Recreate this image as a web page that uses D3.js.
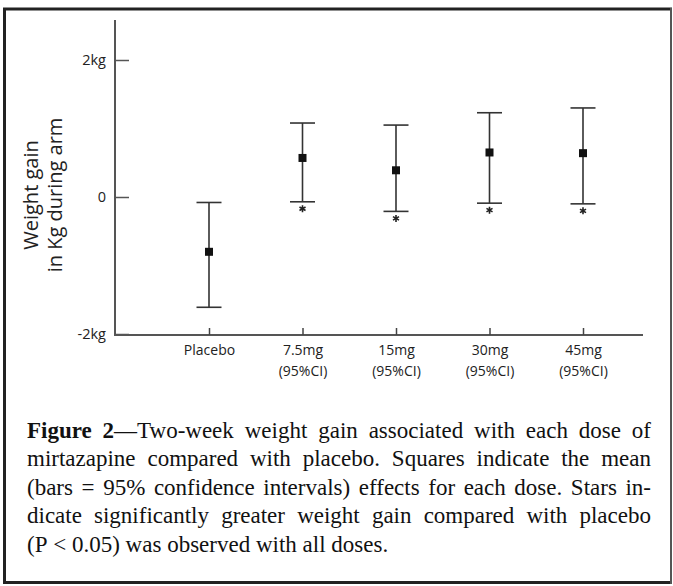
<!DOCTYPE html>
<html>
<head>
<meta charset="utf-8">
<script src="https://cdn.jsdelivr.net/npm/d3@7"></script>
<style>
body { margin: 0; background: #fff; }
</style>
</head>
<body>
<div id="chart"></div>
<script>
var doses = ["Placebo", "7.5mg", "15mg", "30mg", "45mg"];
var subLabels = ["", "(95%CI)", "(95%CI)", "(95%CI)", "(95%CI)"];
var means = [-0.80, 0.57, 0.39, 0.65, 0.64];
var ciLow = [-1.61, -0.07, -0.21, -0.09, -0.10];
var ciHigh = [-0.08, 1.08, 1.05, 1.23, 1.30];
var significant = [false, true, true, true, true];
var yTicks = [-2, 0, 2];
var yTickLabels = ["-2kg", "0", "2kg"];
var yLabel = ["Weight gain", "in Kg during arm"];
var captionBold = "Figure 2";
var caption = [
    "Figure 2\u2014Two-week weight gain associated with each dose of",
    "mirtazapine compared with placebo. Squares indicate the mean",
    "(bars = 95% confidence intervals) effects for each dose. Stars in-",
    "dicate significantly greater weight gain compared with placebo",
    "(P < 0.05) was observed with all doses."
];

var width = 673, height = 586;
var sans = "'Open Sans', 'DejaVu Sans', sans-serif";
var serif = "'Liberation Serif', 'Times New Roman', serif";

var svg = d3.select("#chart").append("svg")
    .attr("width", width)
    .attr("height", height);

// frame
svg.append("line").attr("x1", 3).attr("x2", 672).attr("y1", 9).attr("y2", 9)
    .attr("stroke", "#222").attr("stroke-width", 3);
svg.append("line").attr("x1", 4.5).attr("x2", 4.5).attr("y1", 8).attr("y2", 584)
    .attr("stroke", "#222").attr("stroke-width", 3);
svg.append("line").attr("x1", 3).attr("x2", 672).attr("y1", 582.5).attr("y2", 582.5)
    .attr("stroke", "#222").attr("stroke-width", 3);
svg.append("line").attr("x1", 671).attr("x2", 671).attr("y1", 8).attr("y2", 584)
    .attr("stroke", "#555").attr("stroke-width", 2);

var y = d3.scaleLinear().domain([-2, 2]).range([334, 60]);
var x = d3.scalePoint().domain(doses).range([209, 583]);
var axisX = 115, axisY = 335;

// axis lines
svg.append("line").attr("x1", axisX).attr("x2", axisX).attr("y1", 20).attr("y2", axisY + 1)
    .attr("stroke", "#555").attr("stroke-width", 2);
svg.append("line").attr("x1", axisX - 1).attr("x2", 643).attr("y1", axisY).attr("y2", axisY)
    .attr("stroke", "#555").attr("stroke-width", 2);

// y axis ticks
var gy = svg.append("g")
    .attr("transform", "translate(" + axisX + ",0)")
    .call(d3.axisRight(y).tickValues(yTicks).tickSize(14).tickSizeOuter(0)
        .tickFormat(function(d, i) { return yTickLabels[i]; }));
gy.select(".domain").remove();
gy.selectAll(".tick line").attr("stroke", "#555").attr("stroke-width", 1.5);
gy.selectAll(".tick text")
    .attr("x", -9)
    .attr("dy", "0.28em")
    .attr("text-anchor", "end")
    .style("font-family", sans)
    .style("font-size", "14.5px")
    .attr("fill", "#222");

// x axis ticks
var gx = svg.append("g")
    .attr("transform", "translate(0," + axisY + ")")
    .call(d3.axisBottom(x).tickSize(-7).tickSizeOuter(0).tickPadding(10));
gx.select(".domain").remove();
gx.selectAll(".tick line").attr("stroke", "#444").attr("stroke-width", 1.5);
gx.selectAll(".tick text")
    .style("font-family", sans)
    .style("font-size", "14px")
    .attr("fill", "#222")
    .each(function(d, i) {
        if (subLabels[i]) {
            d3.select(this).append("tspan")
                .attr("x", 0).attr("dy", "1.5em")
                .text(subLabels[i]);
        }
    });

// y label
yLabel.forEach(function(t, i) {
    svg.append("text")
        .attr("transform", "translate(" + (38 + i * 24) + ",195) rotate(-90)")
        .attr("text-anchor", "middle")
        .style("font-family", sans)
        .style("font-size", "20px")
        .attr("fill", "#222")
        .text(t);
});

// error bars
var rows = doses.map(function(d, i) {
    return {dose: d, mean: means[i], lo: ciLow[i], hi: ciHigh[i], sig: significant[i]};
});
var bars = svg.append("g").selectAll("g")
    .data(rows)
    .enter().append("g")
    .attr("transform", function(d) { return "translate(" + x(d.dose) + ",0)"; });

bars.append("line")
    .attr("y1", function(d) { return y(d.lo); })
    .attr("y2", function(d) { return y(d.hi); })
    .attr("stroke", "#333").attr("stroke-width", 1.6);
bars.selectAll(".cap")
    .data(function(d) { return [d.lo, d.hi]; })
    .enter().append("line")
    .attr("class", "cap")
    .attr("x1", -12.5).attr("x2", 12.5)
    .attr("y1", function(v) { return y(v); })
    .attr("y2", function(v) { return y(v); })
    .attr("stroke", "#333").attr("stroke-width", 1.6);
bars.append("rect")
    .attr("x", -4).attr("width", 8).attr("height", 8)
    .attr("y", function(d) { return y(d.mean) - 4; })
    .attr("fill", "#111");
bars.filter(function(d) { return d.sig; })
    .append("path")
    .attr("d", d3.symbol().type(d3.symbolAsterisk).size(34))
    .attr("transform", function(d) { return "translate(0," + (y(d.lo) + 7) + ")"; })
    .attr("stroke", "#222").attr("stroke-width", 1.6).attr("fill", "none");

// caption, justified line by line
var capLeft = 27, capRight = 651, capTop = 438, lineGap = 28.4, capSize = 23;
caption.forEach(function(line, i) {
    var words = line.split(" ");
    var pos = 0;
    var nodes = words.map(function(w) {
        var t = svg.append("text")
            .attr("y", capTop + i * lineGap)
            .style("font-family", serif)
            .style("font-size", capSize + "px")
            .attr("fill", "#111");
        var boldEnd = i == 0 ? Math.max(0, Math.min(w.length, captionBold.length - pos)) : 0;
        if (boldEnd > 0) t.append("tspan").style("font-weight", "bold").text(w.slice(0, boldEnd));
        if (boldEnd < w.length) t.append("tspan").text(w.slice(boldEnd));
        pos += w.length + 1;
        return t;
    });
    var widths = nodes.map(function(t) { return t.node().getComputedTextLength(); });
    var total = d3.sum(widths);
    var gap = capSize * 0.25;
    if (i < caption.length - 1) gap = (capRight - capLeft - total) / (words.length - 1);
    var cx = capLeft;
    nodes.forEach(function(t, j) {
        t.attr("x", cx);
        cx += widths[j] + gap;
    });
});
</script>
</body>
</html>
